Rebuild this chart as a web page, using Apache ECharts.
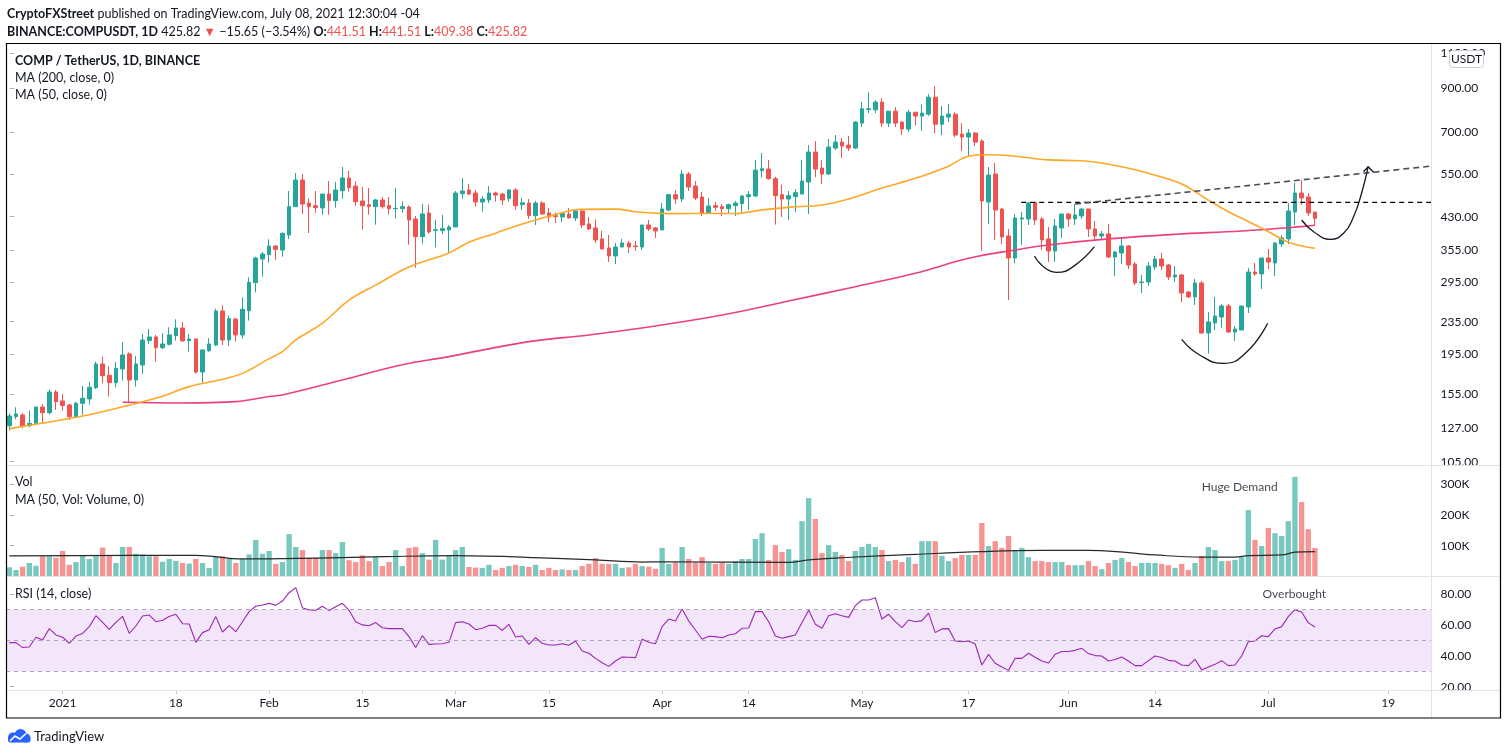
<!DOCTYPE html>
<html><head><meta charset="utf-8">
<script src="https://cdn.jsdelivr.net/npm/echarts@6.0.0/dist/echarts.min.js"></script>
<style>html,body{margin:0;padding:0;background:#fff;}#c{width:1508px;height:755px;}</style>
</head><body><div id="c"></div>
<script>
// ---------------- DATA ----------------
const startDate = [2020, 11, 24];   // first candle: 2020-12-24
const nCategories = 214;            // axis runs to 2021-07-25
const tickDates = ['2021-01-01','2021-01-18','2021-02-01','2021-02-15','2021-03-01','2021-03-15','2021-04-01','2021-04-14','2021-05-01','2021-05-17','2021-06-01','2021-06-14','2021-07-01','2021-07-19'];
const tickLabels = ['2021','18','Feb','15','Mar','15','Apr','14','May','17','Jun','14','Jul','19'];

const open = [129.1,136.1,137.4,129.1,130.9,143.8,139.2,156.8,148.9,145.5,
135.6,146.9,150.6,160.8,184.2,172.6,165.4,179.0,195.2,168.0,
183.1,210.7,215.2,202.3,206.3,216.8,226.6,210.7,212.7,175.9,
198.9,205.5,249.8,211.5,238.6,217.7,250.3,294.1,337.0,345.6,
363.2,354.9,387.0,455.4,530.9,465.0,458.0,452.0,489.8,471.4,
499.3,537.1,512.8,470.5,460.7,455.4,473.2,458.0,450.2,450.2,
454.5,424.3,383.3,439.1,397.5,396.8,398.3,405.2,490.7,501.2,
492.6,467.8,473.2,492.6,489.8,476.9,501.2,460.7,465.0,432.5,
465.0,439.1,432.5,429.2,436.6,426.7,444.2,412.2,402.9,378.3,
359.1,342.9,361.1,369.5,363.2,361.1,409.9,402.9,398.3,446.8,
487.9,476.0,549.5,512.8,481.5,439.1,458.0,455.4,450.2,458.0,
463.3,482.4,484.3,560.2,565.5,535.0,487.9,476.0,482.4,489.8,
524.8,623.6,568.8,549.5,638.1,660.4,649.2,638.1,736.6,796.8,
795.2,831.2,736.6,789.1,740.9,711.7,784.3,766.9,775.7,855.3,
732.3,762.5,775.7,691.6,679.7,695.5,664.3,467.8,549.5,449.3,
384.8,339.0,424.3,424.3,466.7,424.3,378.3,352.9,402.9,436.6,
424.3,431.6,449.3,400.6,384.8,389.3,340.9,348.9,363.2,327.4,
294.1,295.3,321.8,337.0,325.5,303.9,307.4,278.7,270.9,293.6,
220.2,233.3,241.4,257.2,221.4,224.0,255.7,312.7,309.2,339.0,
329.3,367.4,378.3,441.6,492.6,481.5,441.51];
const high = [138.7,143.6,138.7,140.9,144.0,146.4,159.2,158.6,155.0,146.4,
148.3,162.3,166.1,186.7,192.2,182.1,186.3,208.7,197.0,192.9,
219.0,225.3,217.7,219.8,227.5,238.2,234.6,219.0,213.0,200.5,
213.5,253.2,258.2,243.7,239.6,270.4,303.3,341.6,350.9,377.5,
364.6,393.0,498.4,552.7,549.5,477.8,498.4,489.8,527.8,524.8,
572.1,559.1,527.8,509.9,507.0,476.0,481.5,481.5,507.0,469.6,
458.9,431.6,462.4,460.7,421.8,434.2,409.9,498.4,537.1,518.8,
501.2,484.3,512.8,496.4,492.6,504.1,507.0,478.7,476.0,470.5,
470.5,452.0,440.8,439.9,452.0,446.8,446.8,429.2,423.4,396.0,
387.0,369.5,378.3,373.9,373.9,409.9,421.8,405.2,465.0,490.7,
501.2,562.3,556.0,527.8,495.5,478.7,467.8,462.4,463.3,470.5,
487.0,498.4,595.6,620.0,595.6,541.2,516.8,498.4,504.1,595.6,
649.2,664.3,595.6,672.1,687.6,676.0,683.7,745.2,831.2,880.2,
840.7,850.4,789.1,807.6,745.2,795.2,784.3,820.2,870.2,911.1,
812.3,821.8,784.3,736.6,711.7,699.6,672.1,572.1,585.5,452.0,
400.6,436.6,441.6,467.8,467.8,429.2,405.2,424.3,436.6,439.1,
462.4,452.0,449.3,419.4,396.0,412.2,352.9,380.5,365.3,331.3,
307.4,331.3,342.9,348.9,327.4,323.7,309.2,280.4,300.4,297.0,
248.3,270.9,260.2,260.2,229.3,257.2,319.9,329.3,339.0,357.0,
371.6,387.0,465.0,521.8,530.9,492.6,441.51];
const low = [125.5,134.0,127.2,128.0,129.7,131.4,137.7,141.4,140.9,133.5,
134.8,137.4,145.8,159.5,164.8,152.7,161.1,167.4,147.5,161.7,
173.9,206.7,186.7,200.5,204.7,210.7,209.5,197.8,174.2,165.4,
197.4,204.3,205.5,204.3,209.9,213.1,236.4,278.2,304.5,330.0,
335.1,341.6,378.3,455.0,436.6,391.4,439.9,435.0,435.0,452.8,
476.9,496.4,458.0,399.1,435.0,410.7,450.2,435.0,425.1,439.9,
366.0,320.6,368.1,390.0,360.4,388.5,348.2,405.0,476.9,487.0,
455.4,442.5,465.0,468.7,460.7,468.7,447.6,447.6,424.3,409.9,
434.2,417.0,414.6,417.0,426.5,419.4,402.9,398.3,369.5,357.0,
331.3,327.4,361.0,348.9,352.9,354.9,396.0,380.5,398.0,444.2,
462.4,467.8,498.4,473.2,431.6,436.6,444.2,431.6,436.6,431.6,
441.6,446.8,481.5,538.1,531.9,410.7,429.2,421.8,441.6,489.8,
436.6,540.1,518.8,546.3,630.8,602.5,627.2,634.5,719.9,780.2,
780.2,719.9,719.9,719.9,687.6,699.6,728.1,705.0,766.9,695.5,
687.6,740.9,679.7,627.2,606.0,645.5,352.9,412.2,376.0,367.4,
266.2,328.7,365.3,409.9,409.9,354.9,331.3,331.3,380.5,405.2,
409.9,424.3,382.6,373.9,378.3,339.0,305.7,327.4,318.2,290.2,
277.1,288.6,316.3,316.3,298.7,295.3,263.2,269.4,258.7,219.0,
195.5,224.0,226.6,220.2,210.3,224.0,247.0,305.7,283.6,318.2,
305.7,361.1,367.4,409.9,459.8,431.6,409.38];
const close = [136.6,138.2,128.5,130.9,143.8,139.2,156.8,148.3,145.0,136.1,
146.9,151.2,161.1,184.2,172.3,165.4,179.7,194.0,168.0,184.2,
211.5,215.2,202.3,206.7,217.7,226.6,210.3,212.7,175.9,199.7,
206.7,249.8,211.5,239.1,217.7,252.3,294.7,339.0,346.9,363.2,
356.3,390.7,455.4,530.9,462.4,455.4,452.8,489.8,471.4,501.2,
537.1,508.0,468.7,458.0,455.4,473.2,455.4,450.2,451.1,455.4,
421.8,383.3,436.6,393.7,399.1,401.4,405.2,492.6,498.4,489.8,
467.8,476.0,492.6,487.0,473.2,501.2,458.0,465.9,432.5,465.0,
436.6,429.2,430.0,437.5,426.7,444.2,409.9,400.6,376.0,357.0,
342.9,361.1,369.5,361.1,361.8,409.9,400.6,396.0,449.3,487.9,
476.0,549.5,509.9,478.7,439.1,457.1,453.7,450.2,460.7,465.0,
484.3,487.9,562.3,566.6,535.0,485.2,476.0,485.2,493.6,527.8,
623.6,565.5,549.5,641.8,660.4,645.5,638.1,740.9,799.9,799.9,
831.2,736.6,789.1,736.6,711.7,784.3,766.9,780.2,855.3,732.3,
766.9,775.7,687.6,679.7,695.5,660.4,470.5,546.3,446.8,382.6,
339.0,426.7,426.7,465.0,421.8,376.0,352.9,407.6,436.6,424.3,
434.2,449.3,400.6,384.8,389.3,340.9,350.9,363.2,325.5,293.6,
295.3,323.7,337.0,323.7,303.9,307.4,277.1,270.9,293.6,220.2,
234.6,242.8,257.2,221.4,225.3,257.2,312.7,309.2,339.0,331.3,
369.5,380.5,444.2,492.6,478.7,439.1,425.82];

// volume in thousands (K)
const volumeK = [30,21,32,44,35,66,66,61,83,38,
47,70,57,66,94,70,44,96,96,74,
72,66,66,48,57,51,44,42,57,44,
28,66,66,59,44,57,72,119,74,83,
41,47,138,96,86,61,61,86,86,76,
112,53,47,69,50,63,34,47,86,34,
93,96,76,55,119,55,69,86,96,31,
29,28,38,21,28,34,38,34,31,38,
21,28,21,23,21,21,34,41,60,41,
41,41,28,30,41,34,32,25,93,41,
46,96,57,46,63,44,41,46,41,50,
57,57,122,141,54,102,80,89,54,180,
255,187,76,102,80,70,50,83,96,106,
96,86,50,54,47,63,41,115,115,115,
67,50,60,70,70,70,174,99,115,93,
132,83,93,63,50,50,47,47,47,37,
37,37,50,34,24,44,54,60,47,34,
44,44,44,41,37,28,41,21,44,67,
96,86,50,50,54,63,216,119,99,158,
141,132,180,324,242,154,93];

const rsi = [48.6,48.6,45.4,45.8,52.1,50.3,57.7,53.6,52.1,48.2,
52.9,54.6,59.0,66.1,61.8,57.2,61.8,65.7,54.6,59.4,
65.9,66.5,62.2,63.1,65.5,67.0,60.9,60.7,48.8,55.1,
57.0,65.5,55.5,59.6,55.7,62.2,68.7,72.2,73.0,74.1,
72.8,75.6,81.0,84.3,71.3,69.8,69.6,72.2,69.4,71.9,
74.1,69.6,62.2,60.1,59.6,61.6,58.3,57.7,57.7,57.7,
52.5,45.4,53.1,47.5,47.7,47.9,48.8,61.6,62.2,60.7,
57.0,57.9,59.8,59.8,56.6,60.5,52.3,52.9,47.5,51.8,
48.2,47.1,47.1,47.9,46.9,49.7,43.2,41.7,38.4,35.6,
33.2,36.7,39.3,39.1,38.9,50.8,48.8,47.9,59.0,63.9,
62.6,70.4,62.6,56.8,50.8,52.7,52.5,51.8,53.6,54.4,
57.9,58.1,68.7,68.7,62.2,52.9,51.4,52.5,53.6,61.6,
69.6,60.5,57.9,66.1,67.4,66.1,65.0,72.6,76.3,76.3,
77.8,63.9,67.0,62.2,58.3,63.3,62.2,62.9,67.8,55.1,
57.5,57.7,49.7,49.2,49.7,47.7,34.1,41.0,35.2,32.8,
30.6,38.4,38.4,41.7,39.1,36.7,35.4,41.0,42.8,42.8,
43.6,44.9,41.5,40.2,39.9,36.7,37.6,39.3,36.7,33.7,
33.7,36.9,39.9,38.9,37.1,36.7,34.1,33.7,37.8,30.9,
32.8,34.5,36.9,33.7,34.1,39.9,49.2,49.7,53.1,52.5,
57.5,59.0,65.5,70.0,68.5,61.6,58.8];

// moving averages at sample days (day index, value)
const ma50Idx = [0,11,17,23,27,32,35,39,41,43,47,51,55,60,66,69,73,77,81,86,91,94,99,104,109,113,117,122,126,131,136,141,144,147,151,156,161,167,172,176,180,183,186,189,192,195,196];
const ma50Val = [127,136.5,144,153,161.7,168.7,174.5,190,197.8,211.5,233,266,290,322,349,371,391,412,431,448.5,449,442.5,437.5,438,438,447,453.7,460,476,507,536,575,609,614,609,596,593,573,546,519,473,442.5,418,394.6,371,360.4,358.4];
const ma200Idx = [17,26,34,39,41,50,59,66,78,87,97,107,117,127,136,144,151,156,165,175,185,194,196];
const ma200Val = [147.8,147.2,148.3,152.7,154.1,168,183.4,192.2,209.5,217.7,229.3,244.2,264.7,287.4,310.4,338.3,355,365.3,378.3,388.5,396,406,409.2];
const volMAIdx = [0,28,35,44,56,67,82,88,95,98,117,120,125,136,146,155,162,168,172,179,184,186,191,193,196];
const volMAVal = [67,69,57,59,64.5,68,59,54,47,48,46,54,61,72,81,85,85,77.5,70,63,63,68,70,79,81];

// drawn annotations (day index, price)
const resistance = [[151.9,466.7],[213.5,466.7]];
const trendLine = [[160.0,462.4],[213.5,575.4]];
const leftArc = [[153.9,343.0],[154.7,328.8],[156.2,314.6],[157.2,312.2],[159.7,322.5],[162.9,361.7]];
const bottomArc = [[176.0,212.3],[178.7,194.0],[182.3,184.9],[185.8,197.7],[188.9,232.8]];
const rightArc = [[194.0,421.8],[195.8,394.4],[198.3,377.5],[200.3,390.8],[201.8,429.9],[203.0,491.9],[204.0,573.2]];
const arrowHead = [[203.3,557.0],[204.0,573.2],[204.8,555.1]];
const hugeDemandAt = [184.7, 292];
const overboughtAt = [192.9, 80];

// axis tick labels
const priceTicks = [105,127,155,195,235,295,355,430,550,700,900,1100];
const volTicks = [100,200,300];
const rsiTicks = [20,40,60,80];

// ---------------- BUILD ----------------
const dates = [];
{ const d0 = Date.UTC(startDate[0], startDate[1], startDate[2]);
  for (let k = 0; k < nCategories; k++) dates.push(new Date(d0 + k*86400000).toISOString().slice(0,10)); }
const candles = open.map((o,i) => [o, close[i], low[i], high[i]]);
const pairs = (idx, val) => idx.map((x,k) => [x, val[k]]);

const FONT = 'Lato, "Noto Sans", sans-serif';
const TXT = '#131722';
const UP = '#26a69a', DOWN = '#ef5350';
const SEP = '#e0e3eb';
const RIGHT = 1508 - 1431.5;
const HF = 12.5;

const hiddenCat = g => ({type:'category', gridIndex:g, data:dates, show:false, boundaryGap:true});
const hiddenVal = g => ({type:'value', gridIndex:g, min:-0.5, max:nCategories-0.5, show:false});
const rightAxis = (g, extra, ticks, fmt) => Object.assign({
  gridIndex:g, position:'right', splitLine:{show:false},
  axisLine:{show:false},
  axisTick:{show:true, length:5, lineStyle:{color:'#b2b5be'}, customValues:ticks},
  axisLabel:{show:true, customValues:ticks, formatter:fmt, color:TXT, fontSize:12, fontFamily:FONT, margin:9}
}, extra);

const annoLine = (data, color, width, type, smooth) => ({
  type:'line', xAxisIndex:3, yAxisIndex:0, data, symbol:'none', smooth: smooth || false,
  lineStyle:{color, width, type: type || 'solid'}, silent:true, z:6
});

const option = {
  animation:false,
  backgroundColor:'#ffffff',
  grid:[
    {left:6, right:RIGHT, top:44, height:421},
    {left:6, right:RIGHT, top:466, height:110.5},
    {left:6, right:RIGHT, top:577, height:113}
  ],
  xAxis:[
    hiddenCat(0), hiddenCat(1),
    {type:'category', gridIndex:2, data:dates, boundaryGap:true,
     axisLine:{show:true, lineStyle:{color:SEP}},
     axisTick:{show:true, length:4, alignWithLabel:true, lineStyle:{color:'#c8cad1'},
               interval:(i,v) => tickDates.indexOf(v) >= 0},
     axisLabel:{interval:(i,v) => tickDates.indexOf(v) >= 0,
                formatter:v => tickLabels[tickDates.indexOf(v)],
                color:TXT, fontSize:12, fontFamily:FONT, margin:7}},
    hiddenVal(0), hiddenVal(1), hiddenVal(2)
  ],
  yAxis:[
    rightAxis(0, {type:'log', logBase:10, min:103.0, max:1161.3}, priceTicks, v => Number(v).toFixed(2)),
    rightAxis(1, {type:'value', min:0, max:359.3}, volTicks, v => Math.round(v) + 'K'),
    rightAxis(2, {type:'value', min:17.86, max:91.2}, rsiTicks, v => Number(v).toFixed(2))
  ],
  series:[
    {type:'candlestick', xAxisIndex:0, yAxisIndex:0, data:candles, barWidth:'62%', silent:true, z:2,
     itemStyle:{color:UP, color0:DOWN, borderColor:UP, borderColor0:DOWN, borderWidth:1}},
    {type:'line', xAxisIndex:3, yAxisIndex:0, data:pairs(ma200Idx, ma200Val), symbol:'none', smooth:0.4,
     lineStyle:{color:'#ec407a', width:1.6}, silent:true, z:4},
    {type:'line', xAxisIndex:3, yAxisIndex:0, data:pairs(ma50Idx, ma50Val), symbol:'none', smooth:0.4,
     lineStyle:{color:'#ffa726', width:1.6}, silent:true, z:4},
    annoLine(resistance, '#000000', 1.4, [5,4]),
    annoLine(trendLine, '#4a4d57', 1.6, [6,4]),
    annoLine(leftArc, '#131722', 1.3, 'solid', 0.5),
    annoLine(bottomArc, '#131722', 1.3, 'solid', 0.5),
    annoLine(rightArc, '#131722', 1.3, 'solid', 0.5),
    annoLine(arrowHead, '#131722', 1.3, 'solid', false),
    {type:'bar', xAxisIndex:1, yAxisIndex:1, data:volumeK, barWidth:'80%', silent:true,
     itemStyle:{color:p => close[p.dataIndex] >= open[p.dataIndex] ? 'rgba(38,166,154,0.62)' : 'rgba(239,83,80,0.62)'}},
    {type:'line', xAxisIndex:4, yAxisIndex:1, data:pairs(volMAIdx, volMAVal), symbol:'none', smooth:0.4,
     lineStyle:{color:'#2a2a2a', width:1.2}, silent:true, z:4},
    {type:'scatter', xAxisIndex:4, yAxisIndex:1, data:[hugeDemandAt], symbolSize:1, silent:true,
     itemStyle:{color:'transparent'},
     label:{show:true, position:'inside', formatter:'Huge Demand', color:TXT, fontSize:12, fontFamily:FONT}},
    {type:'line', xAxisIndex:2, yAxisIndex:2, data:rsi, symbol:'none', silent:true, z:4,
     lineStyle:{color:'#9c27b0', width:1.1},
     markArea:{silent:true, itemStyle:{color:'#f3e6fb'}, data:[[{yAxis:30},{yAxis:70}]]},
     markLine:{silent:true, symbol:['none','none'], label:{show:false},
               lineStyle:{color:'#aaa6b9', width:1, type:[4,4]},
               data:[{yAxis:70},{yAxis:50},{yAxis:30}]}},
    {type:'scatter', xAxisIndex:5, yAxisIndex:2, data:[overboughtAt], symbolSize:1, silent:true,
     itemStyle:{color:'transparent'},
     label:{show:true, position:'inside', formatter:'Overbought', color:TXT, fontSize:12, fontFamily:FONT}}
  ],
  graphic:[
    // pane separators and frame
    {type:'line', silent:true, z:50, shape:{x1:6, y1:465.5, x2:1501, y2:465.5}, style:{stroke:SEP, lineWidth:1}},
    {type:'line', silent:true, z:50, shape:{x1:6, y1:576.5, x2:1501, y2:576.5}, style:{stroke:SEP, lineWidth:1}},
    {type:'line', silent:true, z:50, shape:{x1:6, y1:690.5, x2:1501, y2:690.5}, style:{stroke:SEP, lineWidth:1}},
    {type:'line', silent:true, z:50, shape:{x1:1431.5, y1:44, x2:1431.5, y2:718}, style:{stroke:SEP, lineWidth:1}},
    {type:'rect', silent:true, z:60, shape:{x:6.5, y:43.5, width:1494, height:674.5}, style:{fill:'none', stroke:'#000', lineWidth:1.2}},
    // currency badge
    {type:'rect', silent:true, z:70, shape:{x:1449.5, y:50.5, width:34, height:17, r:3}, style:{fill:'#fff', stroke:'#c9cbd1', lineWidth:1}},
    {type:'text', silent:true, z:71, x:1466.5, y:59.5, style:{text:'USDT', font:'12px ' + FONT, fill:TXT, align:'center', verticalAlign:'middle'}},
    // header
    {type:'text', silent:true, z:70, x:7, y:14, style:{
      text:'{b|CryptoFXStreet} published on TradingView.com, July 08, 2021 12:30:04 -04',
      font:HF + 'px ' + FONT, fill:TXT, verticalAlign:'middle',
      rich:{b:{fontWeight:'bold', fontSize:HF, fontFamily:FONT, fill:TXT}}}},
    {type:'text', silent:true, z:70, x:7, y:32, style:{
      text:'{b|BINANCE:COMPUSDT, 1D} 425.82 {r|▼} −15.65 (−3.54%) {b|O:}{r|441.51} {b|H:}{r|441.51} {b|L:}{r|409.38} {b|C:}{r|425.82}',
      font:HF + 'px ' + FONT, fill:TXT, verticalAlign:'middle',
      rich:{b:{fontWeight:'bold', fontSize:HF, fontFamily:FONT, fill:TXT},
            r:{fontSize:HF, fontFamily:FONT, fill:'#ef5350'}}}},
    // pane legends
    {type:'text', silent:true, z:70, x:15, y:61, style:{text:'COMP / TetherUS, 1D, BINANCE', font:'bold ' + HF + 'px ' + FONT, fill:TXT, verticalAlign:'middle'}},
    {type:'text', silent:true, z:70, x:15, y:78, style:{text:'MA (200, close, 0)', font:HF + 'px ' + FONT, fill:TXT, verticalAlign:'middle'}},
    {type:'text', silent:true, z:70, x:15, y:94.5, style:{text:'MA (50, close, 0)', font:HF + 'px ' + FONT, fill:TXT, verticalAlign:'middle'}},
    {type:'text', silent:true, z:70, x:15, y:482, style:{text:'Vol', font:HF + 'px ' + FONT, fill:TXT, verticalAlign:'middle'}},
    {type:'text', silent:true, z:70, x:15, y:499.5, style:{text:'MA (50, Vol: Volume, 0)', font:HF + 'px ' + FONT, fill:TXT, verticalAlign:'middle'}},
    {type:'text', silent:true, z:70, x:15, y:593.5, style:{text:'RSI (14, close)', font:HF + 'px ' + FONT, fill:TXT, verticalAlign:'middle'}},
    // TradingView logo
    {type:'group', silent:true, x:6, y:729, children:[
      {type:'circle', shape:{cx:7, cy:8.5, r:5}, style:{fill:'#2962ff'}},
      {type:'circle', shape:{cx:14.5, cy:6, r:6}, style:{fill:'#2962ff'}},
      {type:'circle', shape:{cx:20, cy:9, r:4.5}, style:{fill:'#2962ff'}},
      {type:'rect', shape:{x:2, y:8, width:22.5, height:5.5, r:2.5}, style:{fill:'#2962ff'}},
      {type:'polyline', shape:{points:[[4,12],[9,7],[14,10],[20,4.5]]}, style:{stroke:'#fff', lineWidth:1.6, fill:'none'}}
    ]},
    {type:'text', silent:true, x:34, y:737, style:{text:'TradingView', font:'13px ' + FONT, fill:TXT, verticalAlign:'middle'}}
  ]
};

const chart = echarts.init(document.getElementById('c'), null, {renderer:'canvas', width:1508, height:755});
chart.setOption(option);
</script>
</body></html>
